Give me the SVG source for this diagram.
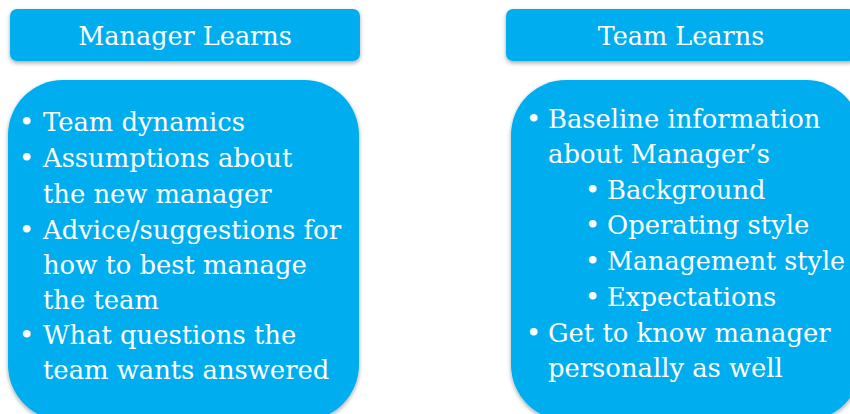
<svg xmlns="http://www.w3.org/2000/svg" width="850" height="414" viewBox="0 0 850 414">
  <defs>
    <filter id="shadow" x="-5%" y="-5%" width="110%" height="115%">
      <feDropShadow dx="0" dy="2" stdDeviation="2" flood-color="#000" flood-opacity="0.35"/>
    </filter>
  </defs>
  <style>
    .box { fill: #00AEEF; filter: url(#shadow); }
    .head { font-family: "DejaVu Serif", serif; font-size: 25.5px; fill: #ffffff; text-anchor: middle; }
    .body { font-family: "DejaVu Serif", serif; font-size: 25.8px; fill: #ffffff; }
  </style>
  <rect width="850" height="414" fill="#ffffff"/>

  <g id="manager-header">
    <rect class="box" x="10" y="9" width="350" height="52" rx="7"/>
    <text class="head" x="185" y="45">Manager Learns</text>
  </g>

  <g id="team-header">
    <rect class="box" x="506" y="9" width="350" height="52" rx="7"/>
    <text class="head" x="681" y="45">Team Learns</text>
  </g>

  <g id="manager-body">
    <rect class="box" x="8" y="80" width="351" height="340" rx="55"/>
    <g class="body">
      <text x="19" y="131">•</text><text x="43" y="131">Team dynamics</text>
      <text x="19" y="167">•</text><text x="43" y="167">Assumptions about</text>
      <text x="43" y="203">the new manager</text>
      <text x="19" y="239">•</text><text x="43" y="239" textLength="298" lengthAdjust="spacingAndGlyphs">Advice/suggestions for</text>
      <text x="43" y="274">how to best manage</text>
      <text x="43" y="309">the team</text>
      <text x="19" y="344">•</text><text x="43" y="344">What questions the</text>
      <text x="43" y="379">team wants answered</text>
    </g>
  </g>

  <g id="team-body">
    <rect class="box" x="511" y="80" width="350" height="340" rx="55"/>
    <g class="body">
      <text x="526" y="128">•</text><text x="548" y="128">Baseline information</text>
      <text x="548" y="163">about Manager’s</text>
      <text x="585" y="199">•</text><text x="607" y="199">Background</text>
      <text x="585" y="234">•</text><text x="607" y="234">Operating style</text>
      <text x="585" y="270">•</text><text x="607" y="270" textLength="238" lengthAdjust="spacingAndGlyphs">Management style</text>
      <text x="585" y="306">•</text><text x="607" y="306">Expectations</text>
      <text x="526" y="342">•</text><text x="548" y="342">Get to know manager</text>
      <text x="548" y="377">personally as well</text>
    </g>
  </g>
</svg>
